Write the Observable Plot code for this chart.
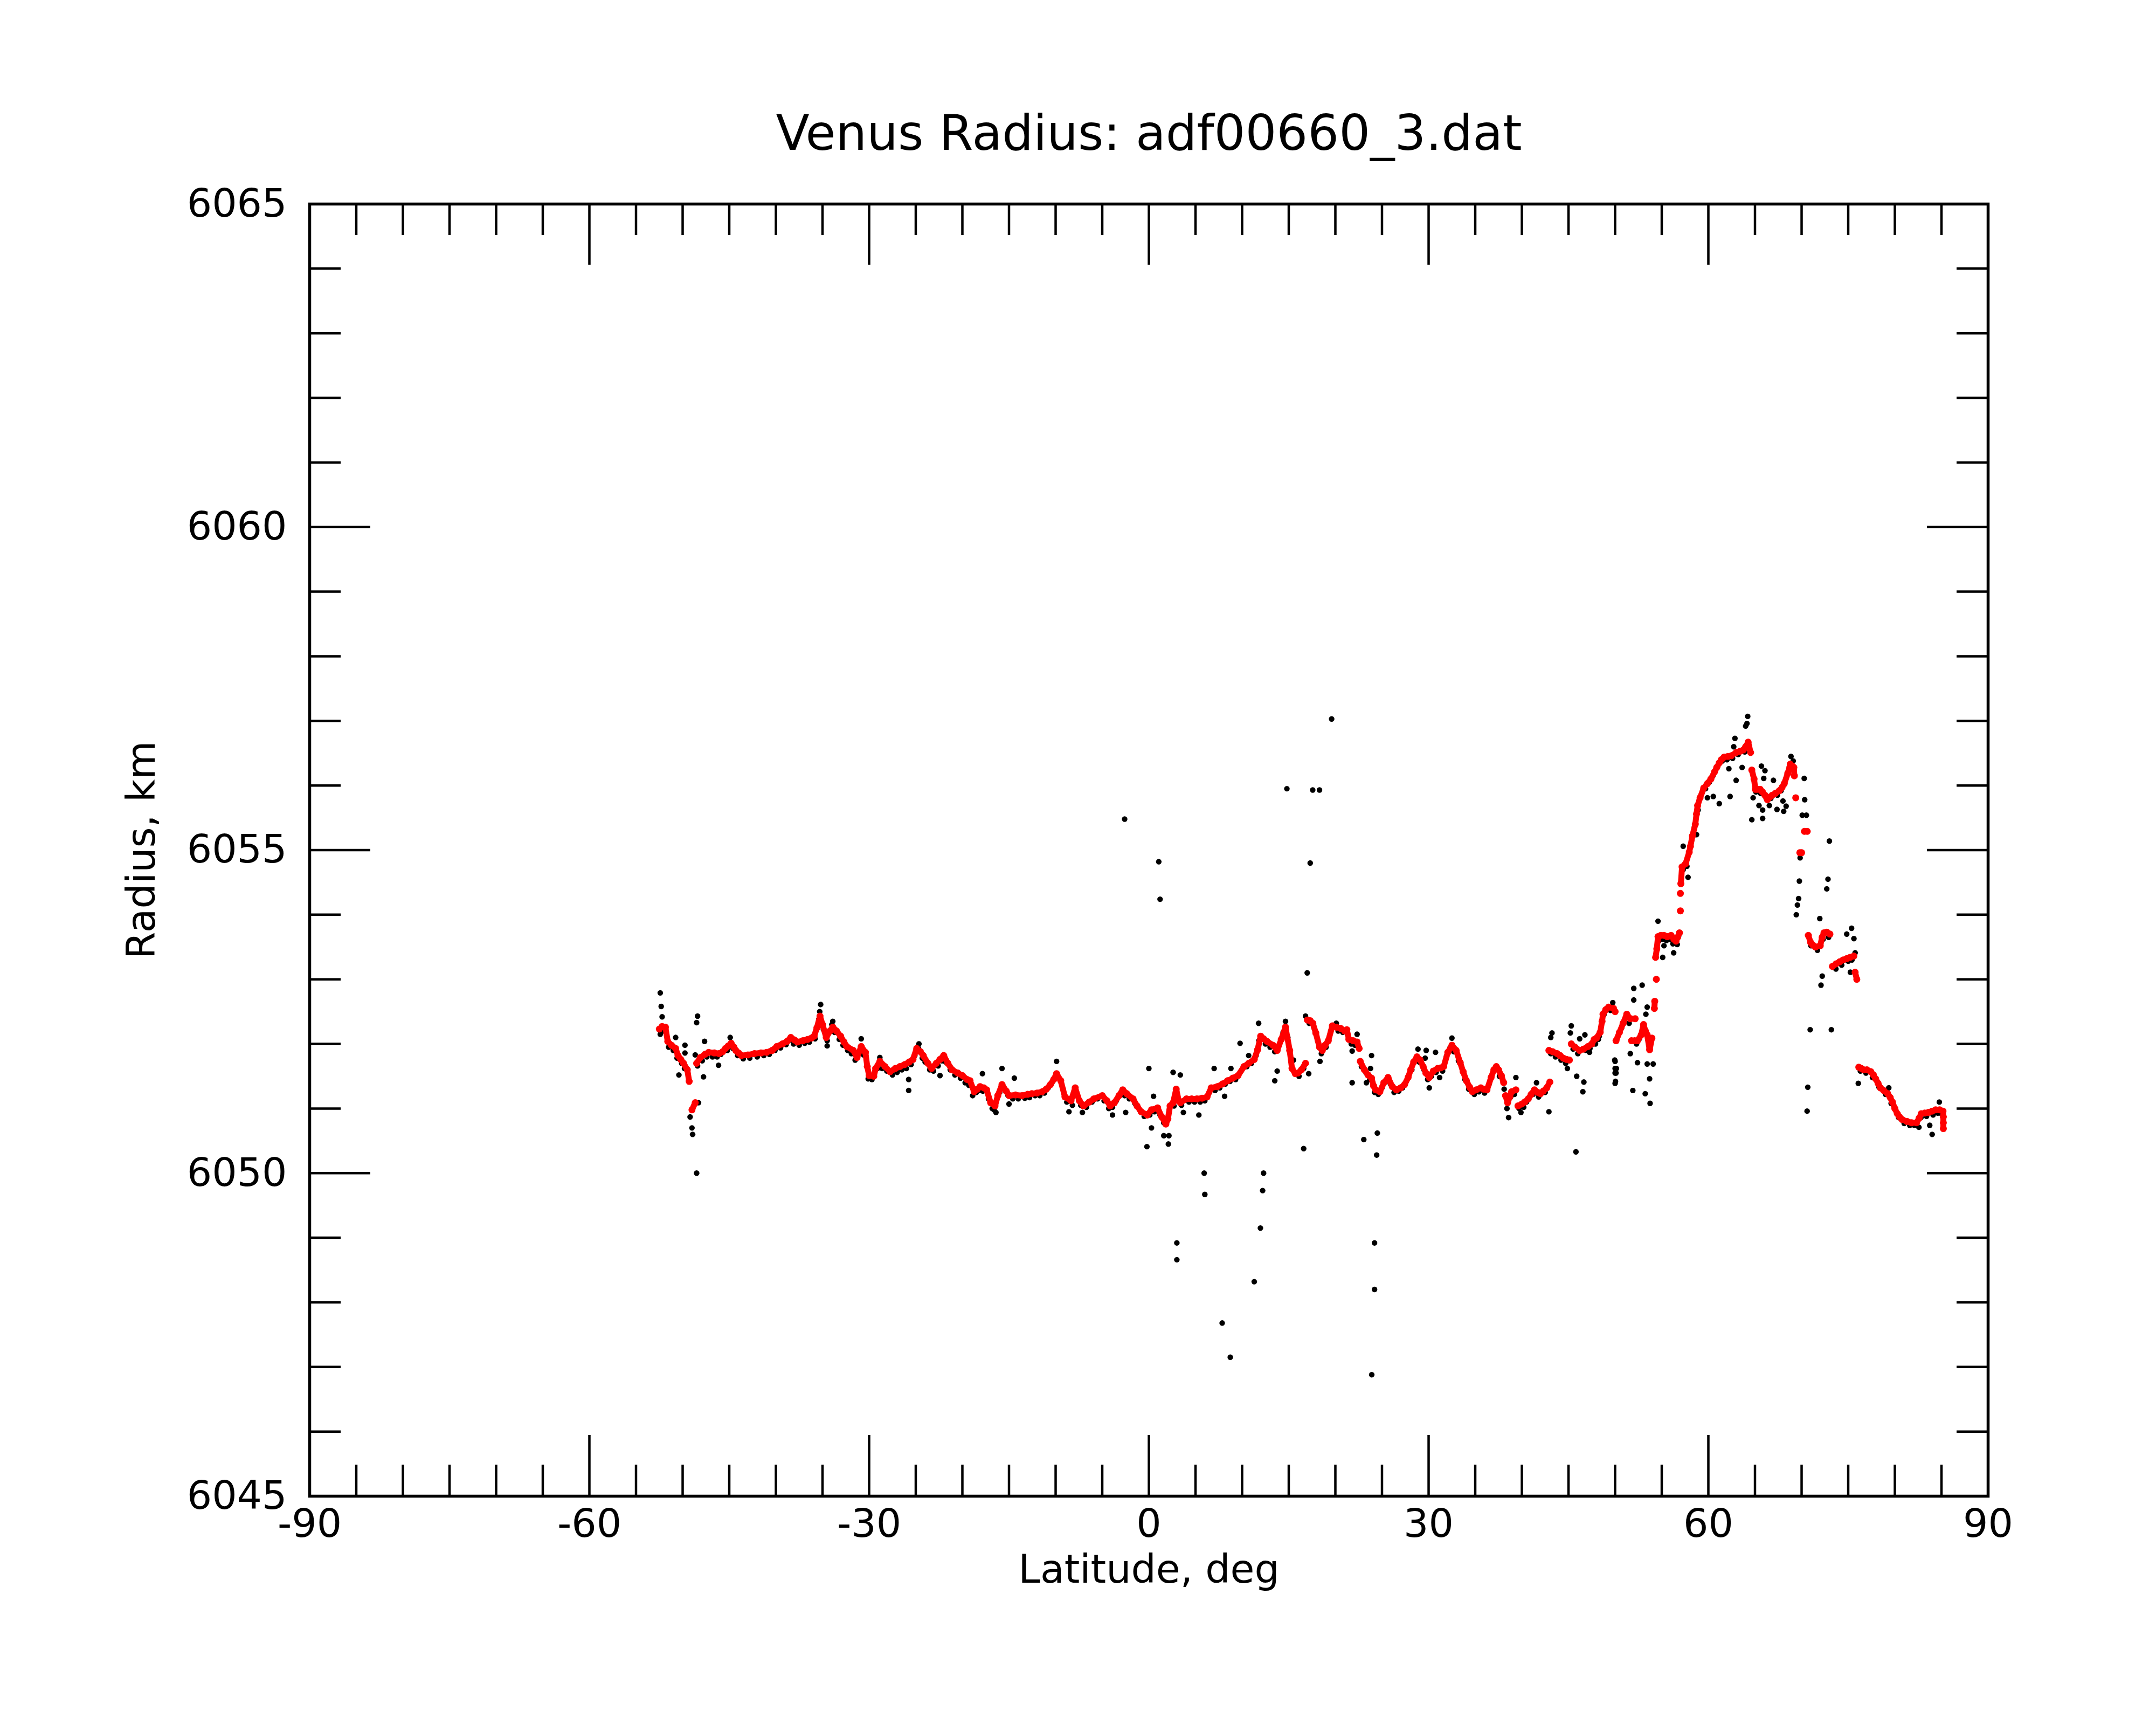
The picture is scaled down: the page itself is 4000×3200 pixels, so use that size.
<!DOCTYPE html>
<html>
<head>
<meta charset="utf-8">
<script src="https://cdn.jsdelivr.net/npm/d3@7"></script>
<script src="https://cdn.jsdelivr.net/npm/@observablehq/plot@0.6"></script>
<style>
  html, body { margin: 0; padding: 0; background: #fff; }
  #chart svg { display: block; }
</style>
</head>
<body>
<div id="chart"></div>
<script>
// ---- Data (latitude in degrees, radius in km) ----
const titleText = "Venus Radius: adf00660_3.dat";
const xLabel = "Latitude, deg";
const yLabel = "Radius, km";

const xMajorTicks = [-90, -60, -30, 0, 30, 60, 90];
const xTickLabels = ["-90", "-60", "-30", "0", "30", "60", "90"];
const xMinorTicks = [-85,-80,-75,-70,-65,-55,-50,-45,-40,-35,-25,-20,-15,-10,-5,5,10,15,20,25,35,40,45,50,55,65,70,75,80,85];
const yMajorTicks = [6045, 6050, 6055, 6060, 6065];
const yTickLabels = ["6045", "6050", "6055", "6060", "6065"];
const yMinorTicks = [6046,6047,6048,6049,6051,6052,6053,6054,6056,6057,6058,6059,6061,6062,6063,6064];

// smoothed radius (red); null marks a break in the track
const smoothed = [
[-52.5,6052.23],[-52.2,6052.27],[-51.85,6052.26],[-51.6,6052.04],[-51.2,6051.98],[-50.75,6051.93],[-50.5,6051.82],[-50.2,6051.76],[-49.9,6051.7],[-49.5,6051.6],[-49.3,6051.42],null,
[-49.0,6050.98],[-48.65,6051.09],null,
[-48.5,6051.7],[-48.1,6051.79],[-47.6,6051.84],[-47.2,6051.87],[-46.6,6051.86],[-46.1,6051.85],[-45.7,6051.88],[-45.4,6051.93],[-45.1,6051.97],[-44.8,6052.01],[-44.5,6051.95],[-44.3,6051.9],[-44.0,6051.86],[-43.7,6051.82],[-43.0,6051.83],[-42.3,6051.85],[-41.6,6051.86],[-41.0,6051.87],[-40.4,6051.9],[-39.9,6051.96],[-39.3,6052.0],[-38.8,6052.04],[-38.4,6052.1],[-38.0,6052.06],[-37.7,6052.03],[-37.1,6052.05],[-36.6,6052.07],[-36.2,6052.09],[-35.9,6052.12],[-35.6,6052.25],[-35.27,6052.43],[-35.0,6052.3],[-34.6,6052.1],[-34.2,6052.2],[-33.9,6052.26],[-33.5,6052.2],[-33.06,6052.12],[-32.7,6052.03],[-32.4,6051.96],[-31.7,6051.9],[-31.3,6051.79],[-30.85,6051.96],[-30.4,6051.87],[-30.2,6051.65],[-30.0,6051.51],[-29.5,6051.5],[-29.3,6051.62],[-28.85,6051.73],[-28.3,6051.65],[-27.75,6051.57],[-27.2,6051.62],[-26.7,6051.65],[-26.2,6051.68],[-25.7,6051.72],[-25.3,6051.76],[-24.9,6051.93],[-24.5,6051.88],[-24.2,6051.82],[-23.7,6051.7],[-23.3,6051.62],[-22.8,6051.7],[-22.4,6051.76],[-22.0,6051.82],[-21.56,6051.7],[-21.1,6051.6],[-20.5,6051.55],[-20.0,6051.51],[-19.5,6051.45],[-19.18,6051.43],[-18.74,6051.26],[-18.4,6051.3],[-18.1,6051.34],[-17.7,6051.32],[-17.4,6051.29],[-16.97,6051.09],[-16.5,6051.04],[-16.2,6051.2],[-15.75,6051.37],[-15.3,6051.27],[-14.98,6051.2],[-14.3,6051.21],[-13.6,6051.2],[-13.0,6051.22],[-12.55,6051.23],[-12.0,6051.24],[-11.44,6051.26],[-11.0,6051.3],[-10.56,6051.37],[-10.2,6051.45],[-9.9,6051.54],[-9.45,6051.43],[-9.0,6051.18],[-8.35,6051.12],[-7.9,6051.32],[-7.46,6051.12],[-7.0,6051.04],[-6.4,6051.1],[-5.9,6051.15],[-5.0,6051.2],[-4.5,6051.12],[-4.15,6051.04],[-3.7,6051.09],[-3.2,6051.2],[-2.8,6051.29],[-2.38,6051.23],[-1.7,6051.15],[-1.27,6051.04],[-0.83,6050.95],[-0.17,6050.9],[0.28,6050.98],[0.94,6051.01],[1.38,6050.87],[1.82,6050.76],[2.04,6050.84],[2.27,6051.04],[2.6,6051.09],[2.93,6051.3],[3.2,6051.12],[3.37,6051.09],[4.04,6051.15],[4.6,6051.15],[5.14,6051.15],[5.7,6051.16],[6.24,6051.18],[6.69,6051.32],[7.35,6051.34],[7.9,6051.38],[8.45,6051.43],[9.0,6051.47],[9.56,6051.51],[10.2,6051.65],[10.7,6051.7],[11.3,6051.76],[11.66,6051.91],[11.99,6052.12],[12.3,6052.08],[12.66,6052.04],[13.3,6051.98],[13.76,6051.9],[14.2,6052.07],[14.65,6052.26],[15.1,6051.9],[15.35,6051.62],[15.7,6051.54],[16.0,6051.55],[16.36,6051.6],[16.8,6051.7],null,
[17.0,6052.37],[17.3,6052.36],[17.58,6052.32],[17.9,6052.17],[18.3,6051.95],[18.6,6051.9],[18.9,6051.98],[19.24,6052.05],[19.68,6052.28],[20.1,6052.26],[20.57,6052.24],[21.0,6052.2],[21.23,6052.22],[21.45,6052.07],[21.9,6052.05],[22.33,6052.03],[22.55,6051.93],null,
[22.67,6051.73],[23.11,6051.6],[23.5,6051.52],[23.88,6051.47],[24.1,6051.35],[24.32,6051.29],[24.77,6051.26],[25.2,6051.4],[25.65,6051.48],[26.1,6051.34],[26.54,6051.29],[27.0,6051.32],[27.42,6051.37],[27.8,6051.48],[28.08,6051.6],[28.4,6051.72],[28.75,6051.8],[29.1,6051.75],[29.41,6051.65],[29.7,6051.55],[30.07,6051.48],[30.5,6051.58],[30.96,6051.62],[31.3,6051.63],[31.62,6051.65],[32.06,6051.87],[32.5,6051.98],[32.95,6051.9],[33.39,6051.71],[33.7,6051.57],[34.05,6051.43],[34.4,6051.33],[34.7,6051.26],[35.1,6051.29],[35.6,6051.32],[35.9,6051.3],[36.26,6051.29],[36.7,6051.48],[37.0,6051.6],[37.26,6051.65],[37.5,6051.6],[37.8,6051.51],[38.05,6051.4],null,
[38.25,6051.2],[38.47,6051.09],[38.7,6051.18],[38.9,6051.26],[39.36,6051.29],null,
[39.58,6051.04],[40.0,6051.07],[40.3,6051.1],[40.69,6051.15],[41.0,6051.22],[41.35,6051.29],[41.7,6051.25],[42.0,6051.23],[42.3,6051.27],[42.67,6051.32],[43.0,6051.41],null,
[42.9,6051.9],[43.3,6051.88],[43.78,6051.85],[44.1,6051.82],[44.44,6051.78],[44.8,6051.76],[45.1,6051.75],null,
[45.3,6052.0],[45.7,6051.95],[46.2,6051.9],[46.6,6051.92],[47.1,6051.96],[47.5,6052.0],[47.76,6052.07],[48.0,6052.09],[48.4,6052.18],[48.6,6052.35],[48.7,6052.46],[49.0,6052.53],[49.3,6052.57],[49.83,6052.55],[50.0,6052.5],null,
[50.1,6052.05],[50.47,6052.18],[50.86,6052.32],[51.25,6052.46],[51.63,6052.39],[52.15,6052.39],null,
[51.76,6052.05],[52.1,6052.05],[52.4,6052.05],[52.8,6052.14],[53.05,6052.3],[53.25,6052.2],[53.44,6052.14],[53.7,6051.91],[53.95,6052.09],null,
[54.21,6052.55],[54.25,6052.66],null,
[54.42,6053.0],null,
[54.34,6053.34],[54.47,6053.47],[54.6,6053.66],[54.9,6053.68],[55.24,6053.68],[55.6,6053.66],[56.0,6053.68],[56.3,6053.62],[56.53,6053.59],[56.7,6053.65],[56.9,6053.72],null,
[57.0,6054.06],null,
[57.0,6054.33],null,
[57.05,6054.48],[57.18,6054.74],[57.56,6054.79],[57.95,6054.97],[58.08,6055.06],[58.29,6055.22],[58.6,6055.4],[58.73,6055.56],[58.85,6055.69],[59.11,6055.81],[59.5,6055.96],[59.9,6056.03],[60.27,6056.1],[60.66,6056.21],[60.9,6056.28],[61.17,6056.35],[61.4,6056.4],[61.69,6056.44],[62.1,6056.45],[62.46,6056.46],[62.98,6056.51],[63.4,6056.53],[63.75,6056.55],[64.0,6056.6],[64.27,6056.67],[64.53,6056.51],null,
[64.66,6056.24],[64.9,6056.1],[65.04,6055.94],[65.3,6055.94],[65.56,6055.94],[65.8,6055.9],[66.07,6055.85],[66.33,6055.78],[66.6,6055.82],[66.85,6055.85],[67.2,6055.88],[67.62,6055.92],[67.9,6055.97],[68.14,6056.03],[68.52,6056.19],[68.78,6056.33],[69.0,6056.3],[69.17,6056.28],[69.22,6056.15],null,
[69.37,6055.81],null,
[69.81,6054.96],[70.0,6054.96],null,
[70.3,6055.29],[70.6,6055.29],null,
[70.72,6053.68],[70.97,6053.57],[71.2,6053.53],[71.49,6053.5],[72.0,6053.52],[72.2,6053.65],[72.4,6053.72],[72.7,6053.73],[73.04,6053.7],null,
[73.3,6053.2],[73.7,6053.24],[74.07,6053.27],[74.45,6053.3],[74.84,6053.32],[75.2,6053.34],[75.6,6053.36],null,
[75.74,6053.11],[75.92,6053.0],null,
[76.13,6051.64],[76.4,6051.62],[76.65,6051.6],[77.0,6051.6],[77.42,6051.57],[77.7,6051.52],[77.94,6051.46],[78.2,6051.39],[78.45,6051.32],[78.8,6051.28],[79.23,6051.23],[79.5,6051.17],[79.74,6051.1],[80.0,6051.0],[80.26,6050.92],[80.5,6050.87],[80.77,6050.83],[81.3,6050.8],[81.8,6050.78],[82.32,6050.78],[82.6,6050.85],[82.83,6050.92],[83.2,6050.93],[83.61,6050.94],[84.0,6050.96],[84.38,6050.98],[84.8,6050.98],[85.16,6050.96],[85.2,6050.87],[85.2,6050.78],[85.2,6050.69]
];

// raw radius samples (black)
const raw = [
[-52.4,6052.15],[-52.0,6052.2],[-51.5,6051.95],[-51.0,6051.9],[-50.6,6051.78],[-50.1,6051.7],[-49.8,6051.62],[-48.4,6051.66],[-47.9,6051.74],[-47.4,6051.8],[-46.8,6051.8],[-46.3,6051.8],[-45.9,6051.84],[-45.2,6051.9],[-44.6,6051.93],[-44.1,6051.82],[-43.5,6051.77],[-42.8,6051.78],[-42.0,6051.8],[-41.3,6051.82],[-40.7,6051.84],[-40.1,6051.9],[-39.5,6051.94],[-38.9,6051.99],[-38.5,6052.06],[-38.1,6052.0],[-37.5,6051.98],[-36.9,6052.01],[-36.4,6052.03],[-35.8,6052.08],[-35.3,6052.5],[-35.4,6052.38],[-34.9,6052.22],[-34.5,6052.05],[-34.0,6052.3],[-33.7,6052.18],[-33.2,6052.07],[-32.8,6051.98],[-32.3,6051.9],[-31.9,6051.85],[-31.5,6051.75],[-30.9,6051.9],[-30.6,6051.83],[-30.1,6051.46],[-29.7,6051.45],[-29.1,6051.62],[-28.6,6051.62],[-28.1,6051.58],[-27.5,6051.52],[-27.0,6051.56],[-26.5,6051.6],[-26.0,6051.62],[-25.5,6051.68],[-25.1,6051.82],[-24.7,6051.93],[-24.3,6051.78],[-24.0,6051.72],[-23.5,6051.6],[-23.1,6051.58],[-22.6,6051.66],[-22.2,6051.74],[-21.8,6051.72],[-21.3,6051.6],[-20.8,6051.52],[-20.2,6051.47],[-19.7,6051.4],[-19.3,6051.36],[-18.9,6051.2],[-18.5,6051.25],[-18.2,6051.28],[-17.8,6051.27],[-17.2,6051.15],[-16.8,6051.0],[-16.6,6050.98],[-16.0,6051.25],[-15.6,6051.32],[-15.1,6051.2],[-14.6,6051.15],[-14.0,6051.15],[-13.3,6051.16],[-12.8,6051.17],[-12.2,6051.2],[-11.7,6051.2],[-11.2,6051.24],[-10.8,6051.32],[-10.4,6051.4],[-10.0,6051.5],[-9.7,6051.48],[-9.2,6051.3],[-8.8,6051.1],[-8.2,6051.05],[-7.7,6051.2],[-7.3,6051.05],[-6.7,6051.02],[-6.1,6051.1],[-5.5,6051.15],[-4.8,6051.12],[-4.3,6051.0],[-3.9,6051.02],[-3.5,6051.12],[-3.0,6051.25],[-2.6,6051.2],[-2.1,6051.15],[-1.5,6051.08],[-1.0,6050.98],[-0.5,6050.88],[0.1,6050.9],[0.6,6050.95],[1.2,6050.9],[1.6,6050.78],[2.2,6050.98],[2.7,6051.04],[3.5,6051.05],[4.3,6051.1],[4.9,6051.1],[5.5,6051.1],[6.0,6051.12],[6.5,6051.25],[7.1,6051.28],[7.6,6051.32],[8.2,6051.38],[8.7,6051.42],[9.3,6051.45],[9.9,6051.58],[10.5,6051.65],[11.0,6051.7],[11.5,6051.82],[11.8,6052.05],[12.1,6052.1],[12.5,6052.0],[13.0,6051.95],[13.5,6051.88],[14.0,6051.98],[14.4,6052.18],[14.9,6052.1],[15.5,6051.75],[16.1,6051.5],[16.6,6051.62],[17.2,6052.32],[17.7,6052.25],[18.1,6052.05],[18.5,6051.85],[19.0,6051.95],[19.5,6052.2],[20.3,6052.2],[20.8,6052.18],[21.3,6052.15],[21.7,6052.0],[22.1,6051.98],[22.8,6051.65],[23.3,6051.55],[23.7,6051.45],[24.2,6051.25],[24.6,6051.22],[25.0,6051.32],[25.4,6051.42],[25.9,6051.38],[26.3,6051.25],[26.8,6051.27],[27.2,6051.32],[27.6,6051.42],[28.2,6051.6],[28.6,6051.74],[29.0,6051.72],[29.5,6051.6],[29.9,6051.45],[30.3,6051.5],[30.8,6051.56],[31.5,6051.58],[31.9,6051.8],[32.3,6051.94],[32.7,6051.88],[33.2,6051.74],[33.9,6051.45],[34.3,6051.3],[34.9,6051.22],[35.4,6051.26],[36.0,6051.24],[36.5,6051.38],[37.1,6051.6],[37.6,6051.5],[38.1,6051.3],[38.4,6051.0],[38.8,6051.18],[39.2,6051.22],[39.7,6051.0],[40.2,6051.02],[40.5,6051.1],[41.2,6051.22],[41.8,6051.18],[42.5,6051.25],[42.8,6051.35],[43.1,6051.85],[43.6,6051.8],[44.2,6051.75],[44.7,6051.7],[45.5,6051.92],[46.0,6051.85],[46.9,6051.9],[47.3,6051.93],[47.9,6052.0],[48.3,6052.12],[48.8,6052.45],[49.5,6052.52],[50.3,6052.12],[50.7,6052.25],[51.1,6052.4],[51.5,6052.32],[52.3,6052.0],[52.6,6052.08],[53.1,6052.22],[53.5,6052.08],[54.7,6053.6],[55.1,6053.62],[55.5,6053.6],[55.9,6053.62],[56.2,6053.55],[56.8,6053.66],[57.3,6054.7],[57.7,6054.75],[58.2,6055.15],[58.5,6055.35],[58.9,6055.62],[59.3,6055.88],[59.7,6055.95],[60.1,6056.05],[60.5,6056.15],[61.0,6056.3],[61.5,6056.38],[62.0,6056.4],[62.6,6056.42],[63.2,6056.48],[63.9,6056.52],[64.4,6056.6],[65.1,6055.9],[65.6,6055.88],[66.2,6055.8],[66.7,6055.8],[67.4,6055.85],[67.8,6055.92],[68.3,6056.1],[68.7,6056.3],[69.1,6056.38],[71.0,6053.52],[71.7,6053.45],[72.3,6053.62],[72.9,6053.65],[73.5,6053.18],[74.3,6053.22],[75.0,6053.28],[75.4,6053.3],[76.3,6051.58],[76.9,6051.55],[77.6,6051.48],[78.3,6051.33],[79.0,6051.22],[79.6,6051.08],[80.4,6050.86],[81.0,6050.77],[81.6,6050.74],[82.1,6050.74],[82.8,6050.86],[83.4,6050.88],[84.1,6050.9],[84.6,6050.93],[85.0,6050.92],
// scattered samples
[-52.4,6052.79],[-52.3,6052.58],[-52.2,6052.42],[-50.75,6052.1],[-50.4,6051.52],[-49.75,6051.98],[-49.75,6051.86],[-48.4,6052.43],[-48.5,6052.33],[-47.65,6052.04],[-47.76,6051.49],[-48.65,6051.83],[-48.3,6051.09],[-49.2,6050.87],[-49.0,6050.7],[-48.93,6050.6],[-48.5,6050.0],[-46.15,6051.67],[-44.9,6052.1],[-35.2,6052.61],[-34.5,6051.97],[-33.9,6052.35],[-30.85,6052.08],[-25.76,6051.45],[-25.76,6051.28],[-22.4,6051.51],[-24.66,6052.0],[-28.85,6051.79],
[-17.85,6051.54],[-15.75,6051.62],[-14.43,6051.47],[-16.4,6050.94],[-15.0,6051.07],[-9.9,6051.73],[-8.57,6050.95],[-7.13,6050.94],[-3.9,6050.9],[-2.49,6050.94],[0.0,6051.62],[0.28,6050.7],[-0.21,6050.41],[1.6,6050.58],[2.15,6050.58],[2.09,6050.45],[0.5,6051.19],[2.6,6051.56],[3.37,6051.52],[3.7,6050.94],[5.36,6050.9],[8.12,6051.19],[9.78,6052.01],[11.77,6052.32],[13.76,6051.58],[13.5,6051.43],[14.65,6052.35],[7.0,6051.62],[8.8,6051.62],[10.7,6051.82],
[-2.6,6055.48],[1.06,6054.82],[1.2,6054.24],[5.93,6050.0],[6.0,6049.67],[3.0,6048.92],[3.0,6048.66],[7.86,6047.68],[8.73,6047.15],[11.3,6048.32],[11.96,6049.15],[12.2,6049.73],[12.3,6050.0],[14.8,6055.95],[17.57,6055.93],[18.3,6055.93],[19.6,6057.03],[17.3,6054.8],[16.98,6053.1],[16.6,6050.38],[23.05,6050.52],[24.5,6050.62],[24.43,6050.28],[24.2,6048.92],[24.2,6048.2],[23.9,6046.88],[45.8,6050.33],
[16.8,6052.43],[18.35,6051.73],[17.14,6051.54],[20.1,6052.32],[22.33,6052.15],[21.8,6051.89],[21.8,6051.4],[23.88,6051.82],[23.33,6051.4],[23.77,6051.62],[28.86,6051.92],[29.74,6051.9],[29.63,6051.78],[30.07,6051.32],[30.74,6051.87],[31.18,6051.48],[32.5,6052.09],[38.58,6050.86],[39.36,6051.48],[39.9,6050.94],[42.9,6050.95],[41.57,6051.4],[43.23,6052.17],[43.1,6052.1],[45.3,6052.28],[45.2,6052.17],[44.88,6051.62],[45.88,6051.5],[46.65,6051.41],[46.54,6051.26],[46.2,6052.08],[46.76,6052.14],[48.2,6052.07],[49.75,6052.64],[50.0,6051.73],[50.0,6051.62],[50.0,6051.55],[50.0,6051.39],
[47.25,6051.87],[49.96,6051.75],[50.14,6051.62],[50.1,6051.55],[50.04,6051.42],[52.0,6052.86],[52.9,6052.91],[52.0,6052.68],[53.44,6052.57],[53.3,6052.46],[51.63,6051.85],[52.4,6051.71],[51.9,6051.28],[53.23,6051.23],[53.75,6051.08],[53.7,6051.46],[54.08,6051.69],[53.44,6051.69],[54.6,6053.9],[55.24,6053.52],[55.1,6053.34],[56.28,6053.41],[56.66,6053.54],[57.3,6055.06],[57.82,6054.58],[58.73,6055.24],[59.9,6055.81],[60.53,6055.83],[61.17,6055.72],[62.33,6055.83],[62.2,6056.26],[62.98,6056.08],[63.62,6056.28],[62.85,6056.73],[62.72,6056.6],[64.0,6056.92],[64.14,6056.96],[64.22,6057.07],[64.66,6055.47],[64.8,6055.81],[65.69,6056.3],[66.07,6056.23],[65.94,6056.11],[66.98,6056.08],[65.43,6055.69],[65.82,6055.62],[65.82,6055.49],[66.54,6055.69],[67.36,6055.63],[68.0,6055.76],[68.34,6055.68],[68.08,6055.6],[68.86,6056.45],[70.28,6056.11],[70.33,6055.78],[70.07,6055.54],[70.51,6055.54],[69.84,6054.88],[69.76,6054.52],[69.68,6054.25],[69.55,6054.15],[69.43,6054.0],[72.98,6055.14],[72.83,6054.55],[72.7,6054.4],[71.95,6053.94],[72.21,6053.05],[72.08,6052.91],[70.92,6052.22],[73.19,6052.22],[70.66,6051.33],[70.59,6050.96],[75.36,6053.79],[75.61,6053.63],[75.74,6053.41],[74.84,6053.7],[75.23,6053.11],[73.68,6053.16],[76.08,6051.39],[79.35,6051.32],[82.58,6050.71],[83.74,6050.74],[84.0,6050.6],[84.77,6051.1]
];

// ---- Build tables ----
const smoothRows = smoothed.map(p => p ? {lat: p[0], r: p[1]} : {lat: NaN, r: NaN});
const rawRows = raw.map(p => ({lat: p[0], r: p[1]}));

const W = 4000, H = 3200;
const mL = 574, mR = 312, mT = 378, mB = 425;
const frameH = H - mT - mB;
const frameW = W - mL - mR;
const minorLen = 58, majorLen = 113;
const tickW = 4.5;

const plot = Plot.plot({
  width: W,
  height: H,
  marginLeft: mL,
  marginRight: mR,
  marginTop: mT,
  marginBottom: mB,
  style: {fontFamily: "'DejaVu Sans', sans-serif", fontSize: "73px", background: "#fff", color: "#000"},
  x: {domain: [-90, 90], label: null},
  y: {domain: [6045, 6065], label: null},
  marks: [
    Plot.dot(rawRows, {x: "lat", y: "r", r: 5.2, fill: "#000"}),
    Plot.line(smoothRows, {x: "lat", y: "r", stroke: "#ff0000", strokeWidth: 11, strokeLinecap: "round", strokeLinejoin: "round"}),
    Plot.dot(smoothRows, {x: "lat", y: "r", r: 6.5, fill: "#ff0000"}),
    // ticks on all four sides, pointing inward
    Plot.tickX(xMinorTicks, {x: d => d, insetBottom: frameH - minorLen, strokeWidth: tickW}),
    Plot.tickX(xMinorTicks, {x: d => d, insetTop: frameH - minorLen, strokeWidth: tickW}),
    Plot.tickX(xMajorTicks, {x: d => d, insetBottom: frameH - majorLen, strokeWidth: tickW}),
    Plot.tickX(xMajorTicks, {x: d => d, insetTop: frameH - majorLen, strokeWidth: tickW}),
    Plot.tickY(yMinorTicks, {y: d => d, insetRight: frameW - minorLen, strokeWidth: tickW}),
    Plot.tickY(yMinorTicks, {y: d => d, insetLeft: frameW - minorLen, strokeWidth: tickW}),
    Plot.tickY(yMajorTicks, {y: d => d, insetRight: frameW - majorLen, strokeWidth: tickW}),
    Plot.tickY(yMajorTicks, {y: d => d, insetLeft: frameW - majorLen, strokeWidth: tickW}),
    Plot.frame({stroke: "#000", strokeWidth: 5.5}),
    Plot.axisX({anchor: "bottom", ticks: xMajorTicks, tickSize: 0, tickPadding: 24, fontSize: 73,
      tickFormat: (d) => xTickLabels[xMajorTicks.indexOf(d)], label: null}),
    Plot.axisY({anchor: "left", ticks: yMajorTicks, tickSize: 0, tickPadding: 42, fontSize: 73,
      tickFormat: (d) => yTickLabels[yMajorTicks.indexOf(d)], label: null}),
    Plot.text([titleText], {frameAnchor: "top", lineAnchor: "bottom", dy: -101, fontSize: 91, fill: "#000"}),
    Plot.text([xLabel], {frameAnchor: "bottom", lineAnchor: "bottom", dy: 160, fontSize: 73, fill: "#000"}),
    Plot.text([yLabel], {frameAnchor: "left", textAnchor: "middle", rotate: -90, dx: -311, lineAnchor: "middle", fontSize: 73, fill: "#000"})
  ]
});

document.getElementById("chart").appendChild(plot);
</script>
</body>
</html>
